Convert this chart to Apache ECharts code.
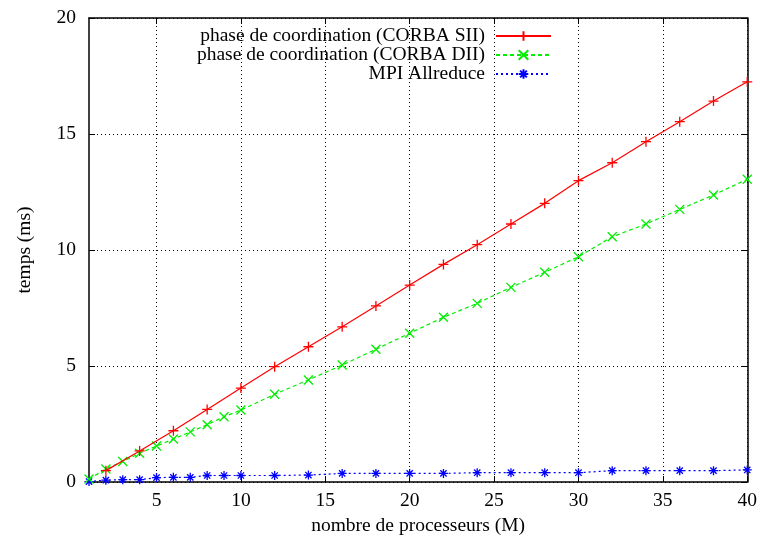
<!DOCTYPE html>
<html>
<head>
<meta charset="utf-8">
<script src="https://cdn.jsdelivr.net/npm/echarts@6/dist/echarts.min.js"></script>
<style>html,body{margin:0;padding:0;background:#fff}#c{width:760px;height:541px}</style>
</head>
<body>
<div id="c"></div>
<script>
// ---- data ----
const xTicks = [5, 10, 15, 20, 25, 30, 35, 40];
const yTicks = [0, 5, 10, 15, 20];
const xSII = [2,4,6,8,10,12,14,16,18,20,22,24,26,28,30,32,34,36,38,40];
const ySII = [0.49,1.34,2.21,3.13,4.05,4.97,5.83,6.69,7.59,8.49,9.38,10.23,11.12,12.01,12.99,13.76,14.67,15.53,16.42,17.25];
const xDII = [1,2,3,4,5,6,7,8,9,10,12,14,16,18,20,22,24,26,28,30,32,34,36,38,40];
const yDII = [0.13,0.56,0.88,1.24,1.55,1.85,2.16,2.47,2.81,3.10,3.78,4.40,5.04,5.72,6.41,7.10,7.70,8.39,9.04,9.71,10.57,11.12,11.75,12.37,13.05];
const xMPI = [1,2,3,4,5,6,7,8,9,10,12,14,16,18,20,22,24,26,28,30,32,34,36,38,40];
const yMPI = [0.02,0.08,0.1,0.1,0.19,0.2,0.2,0.28,0.28,0.28,0.28,0.3,0.37,0.37,0.37,0.37,0.4,0.4,0.4,0.4,0.49,0.49,0.49,0.49,0.52];
const names = ['phase de coordination (CORBA SII)', 'phase de coordination (CORBA DII)', 'MPI Allreduce'];
const xTitle = 'nombre de processeurs (M)';
const yTitle = 'temps (ms)';

const FONT = "'Liberation Serif', 'Times New Roman', serif";
const pair = (xs, ys) => xs.map((x, i) => [x, ys[i]]);
const PLUS = 'path://M0,5L10,5M5,0L5,10';
const CROSS = 'path://M0,0L10,10M10,0L0,10';
const STAR = 'path://M0,5L10,5M5,0L5,10M1.5,1.5L8.5,8.5M8.5,1.5L1.5,8.5';

const chart = echarts.init(document.getElementById('c'));
const axisLine = { show: true, onZero: false, lineStyle: { color: '#000', width: 1.5 } };
const tick = (vals) => ({ show: true, inside: true, length: 6, customValues: vals, lineStyle: { color: '#000', width: 1 } });
const lbl = { fontFamily: FONT, fontSize: 19.5, color: '#000' };

function legendFor(i, top) {
  return {
    data: [names[i]], orient: 'vertical', align: 'right', right: 208, top: top,
    itemWidth: 55, itemHeight: 12, padding: 0, selectedMode: false,
    textStyle: { fontFamily: FONT, fontSize: 19.5, color: '#000', lineHeight: 19, padding: [0, 6, 0, 0] }
  };
}

chart.setOption({
  animation: false,
  backgroundColor: '#fff',
  grid: { left: 89, right: 11, top: 18, bottom: 59, containLabel: false },
  legend: [legendFor(0, 26), legendFor(1, 45), legendFor(2, 64)],
  xAxis: [{
    type: 'value', min: 1, max: 40, position: 'bottom',
    axisLine: axisLine, axisTick: tick(xTicks),
    axisLabel: Object.assign({ customValues: xTicks, margin: 9 }, lbl),
    splitLine: { show: true, lineStyle: { color: '#000', type: [1, 3], width: 1 } },
    name: xTitle, nameLocation: 'middle', nameGap: 27, nameTextStyle: lbl
  }, {
    type: 'value', min: 1, max: 40, position: 'top',
    axisLine: axisLine, axisTick: tick(xTicks), axisLabel: { show: false }, splitLine: { show: false }
  }],
  yAxis: [{
    type: 'value', min: 0, max: 20, interval: 5, position: 'left',
    axisLine: axisLine, axisTick: tick(yTicks),
    axisLabel: Object.assign({ margin: 13 }, lbl),
    splitLine: { show: true, lineStyle: { color: '#000', type: [1, 3], width: 1 } },
    name: yTitle, nameLocation: 'middle', nameGap: 54, nameRotate: 90, nameTextStyle: lbl
  }, {
    type: 'value', min: 0, max: 20, interval: 5, position: 'right',
    axisLine: axisLine, axisTick: tick(yTicks), axisLabel: { show: false }, splitLine: { show: false }
  }],
  series: [{
    name: names[0], type: 'line', data: pair(xSII, ySII), xAxisIndex: 0, yAxisIndex: 0,
    symbol: PLUS, symbolSize: 10, showSymbol: true, z: 5,
    itemStyle: { color: 'none', borderColor: '#ff0000', borderWidth: 1.3 },
    lineStyle: { color: '#ff0000', width: 1.2 }
  }, {
    name: names[1], type: 'line', data: pair(xDII, yDII),
    symbol: CROSS, symbolSize: 9, z: 4,
    itemStyle: { color: 'none', borderColor: '#00ee00', borderWidth: 1.3 },
    lineStyle: { color: '#00ee00', width: 1.2, type: [4, 3] }
  }, {
    name: names[2], type: 'line', data: pair(xMPI, yMPI),
    symbol: STAR, symbolSize: 9, z: 3,
    itemStyle: { color: 'none', borderColor: '#0000ff', borderWidth: 1.3 },
    lineStyle: { color: '#0000ff', width: 1.2, type: [2, 3] }
  }]
});
</script>
</body>
</html>
